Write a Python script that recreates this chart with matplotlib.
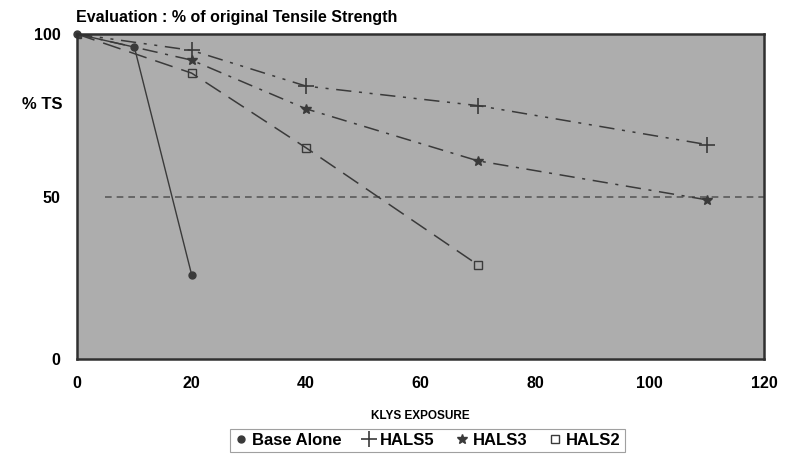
import matplotlib.pyplot as plt

plt.rcParams['font.family'] = ['Liberation Sans', 'DejaVu Sans']
plt.rcParams['font.weight'] = 'bold'

# data
base_x = [0, 10, 20]
base_y = [100, 96, 26]
hals5_x = [0, 20, 40, 70, 110]
hals5_y = [100, 95, 84, 78, 66]
hals3_x = [0, 20, 40, 70, 110]
hals3_y = [100, 92, 77, 61, 49]
hals2_x = [0, 20, 40, 70]
hals2_y = [100, 88, 65, 29]
threshold = 50

fig = plt.figure(figsize=(7.95, 4.55), dpi=100)
ax = fig.add_axes([0.097, 0.211, 0.864, 0.714])
ax.set_facecolor('#adadad')

line_col = '#3a3a3a'
ax.axhline(threshold, xmin=0.04, xmax=1.0, color='#5a5a5a', lw=1.2, ls=(0, (4, 3)))

ax.plot(base_x, base_y, color=line_col, lw=1, marker='o', ms=5,
        label='Base Alone', clip_on=False)
ax.plot(hals5_x, hals5_y, color=line_col, lw=1.1, ls=(0, (10, 5, 2, 5, 2, 5)),
        marker='+', ms=11, mew=1.2, label='HALS5')
ax.plot(hals3_x, hals3_y, color=line_col, lw=1.1, ls=(0, (10, 5, 2, 5)),
        marker='*', ms=7, label='HALS3')
ax.plot(hals2_x, hals2_y, color=line_col, lw=1.1, ls=(0, (12, 6)),
        marker='s', ms=6, mfc='none', mew=1, label='HALS2')

ax.set_xlim(0, 120)
ax.set_ylim(0, 100)
ax.set_xticks(range(0, 121, 20))
ax.set_yticks([0, 50, 100])
ax.tick_params(length=0, labelsize=11.5, pad=12)
for s in ax.spines.values():
    s.set_linewidth(1.8)
    s.set_color('#303030')

fig.text(0.095, 0.945, 'Evaluation : % of original Tensile Strength',
         fontsize=11.5, fontweight='bold', ha='left', va='bottom')
fig.text(0.028, 0.77, '% TS', fontsize=12, fontweight='bold', ha='left', va='center')
ax.set_xlabel('KLYS EXPOSURE', fontsize=8.5, fontweight='bold', labelpad=14)

leg = ax.legend(loc='center', bbox_to_anchor=(0.51, -0.25), ncol=4,
                frameon=True, fancybox=False, handlelength=0.8,
                handletextpad=0.3, columnspacing=1.2, borderpad=0.25,
                prop={'weight': 'bold', 'size': 12})
leg.get_frame().set_edgecolor('#888888')
leg.get_frame().set_linewidth(0.8)
# legend shows only the markers
for h in leg.get_lines():
    h.set_linestyle('none')

fig.savefig('out.png', dpi=100)
